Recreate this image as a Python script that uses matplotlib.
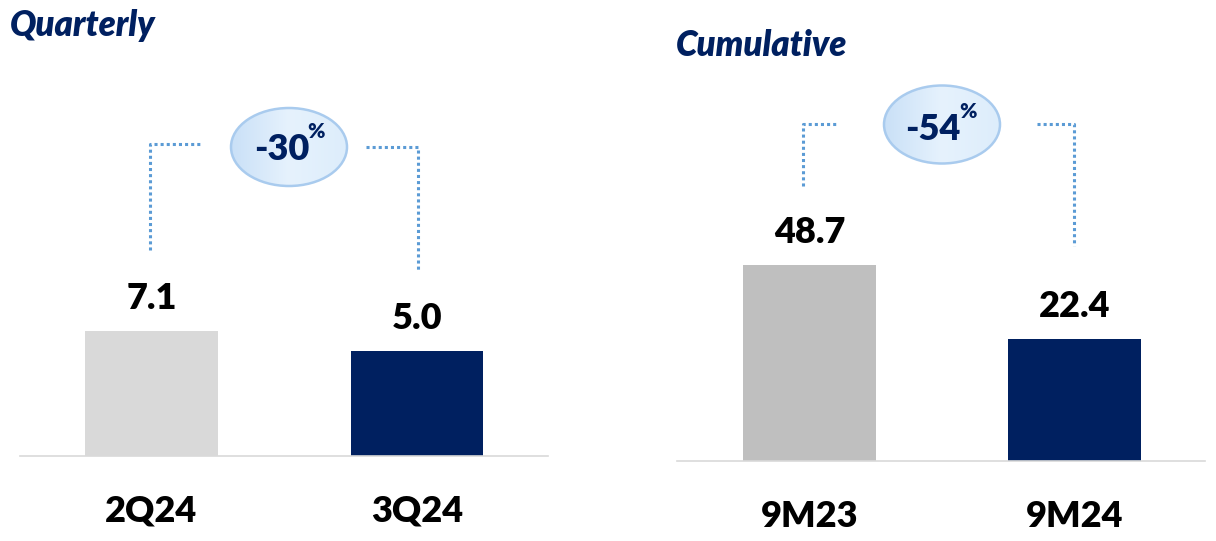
import matplotlib.pyplot as plt
import numpy as np
from matplotlib.patches import Ellipse
from matplotlib.colors import LinearSegmentedColormap

# data
q_labels = ['2Q24', '3Q24']
q_values = [7.1, 5.0]
c_labels = ['9M23', '9M24']
c_values = [48.7, 22.4]
q_change = '-30'
c_change = '-54'

navy = '#002060'
dot_blue = '#5B9BD5'
plt.rcParams['font.family'] = ['Lato', 'DejaVu Sans']

W, H = 1216, 541
fig = plt.figure(figsize=(W / 100, H / 100), dpi=100)


def panel(x0, x1, y_base, y_top, labels, values, colors, ylim, xlim):
    ax = fig.add_axes([x0 / W, 1 - y_base / H, (x1 - x0) / W, (y_base - y_top) / H])
    base = ylim[0]
    x = np.arange(len(values))
    ax.bar(x, np.array(values) - base, bottom=base, width=0.5, color=colors)
    for xi, v in zip(x, values):
        ax.annotate(f'{v:.1f}', (xi, v), xytext=(0, 16), textcoords='offset points',
                    ha='center', va='baseline', fontsize=26, fontweight='heavy', color='black')
    ax.set_xlim(*xlim)
    ax.set_ylim(*ylim)
    ax.set_xticks(x, labels, fontsize=26, fontweight='heavy')
    ax.tick_params(axis='x', length=0, pad=28)
    ax.set_yticks([])
    for s in ['left', 'right', 'top']:
        ax.spines[s].set_visible(False)
    ax.spines['bottom'].set_color('#D9D9D9')
    ax.spines['bottom'].set_linewidth(1.2)
    ax.patch.set_visible(False)
    return ax


panel(20, 548, 456, 60, q_labels, q_values, ['#D9D9D9', navy], (-6, 35.6), (-0.495, 1.493))
panel(677, 1205, 461, 60, c_labels, c_values, ['#BFBFBF', navy], (-21, 121.7), (-0.5, 1.4925))

# overlay in pixel coordinates for titles, brackets and badges
ov = fig.add_axes([0, 0, 1, 1])
ov.set_xlim(0, W)
ov.set_ylim(H, 0)
ov.axis('off')

ov.text(10, 36, 'Quarterly', fontsize=25, fontweight='heavy', fontstyle='italic',
        color=navy, ha='left', va='baseline')
ov.text(676, 56, 'Cumulative', fontsize=25, fontweight='heavy', fontstyle='italic',
        color=navy, ha='left', va='baseline')

dot_kw = dict(color=dot_blue, lw=2.2, linestyle=(0, (1, 1)), dash_capstyle='butt')
ov.plot([150, 150, 202], [250, 144, 144], **dot_kw)
ov.plot([366, 418, 418], [147, 147, 270], **dot_kw)
ov.plot([803, 803, 838], [186, 124, 124], **dot_kw)
ov.plot([1037, 1074, 1074], [124, 124, 246], **dot_kw)

cmap = LinearSegmentedColormap.from_list('badge', ['#C9E0F7', '#E6F2FD', '#DDEDFB'])
grad = np.linspace(0, 1, 256).reshape(1, -1)
for (cx, cy), txt, (tx, ty), (px, py) in [((289, 147), q_change, (282, 150), (316, 132)),
                                          ((942, 124.5), c_change, (933, 129), (968, 111))]:
    w, h = 116, 78
    ell = Ellipse((cx, cy), w, h, facecolor='none', edgecolor='#A9CBEE', lw=1.8, zorder=3)
    ov.add_patch(ell)
    im = ov.imshow(grad, extent=(cx - w / 2, cx + w / 2, cy + h / 2, cy - h / 2),
                   cmap=cmap, aspect='auto', zorder=2)
    im.set_clip_path(ell)
    ov.text(tx, ty, txt, fontsize=26, fontweight='heavy', color=navy,
            ha='center', va='center', zorder=4)
    ov.text(px, py, '%', fontsize=15, fontweight='heavy', color=navy,
            ha='center', va='center', zorder=4)

ov.set_xlim(0, W)
ov.set_ylim(H, 0)

fig.savefig('out.png', dpi=100)
